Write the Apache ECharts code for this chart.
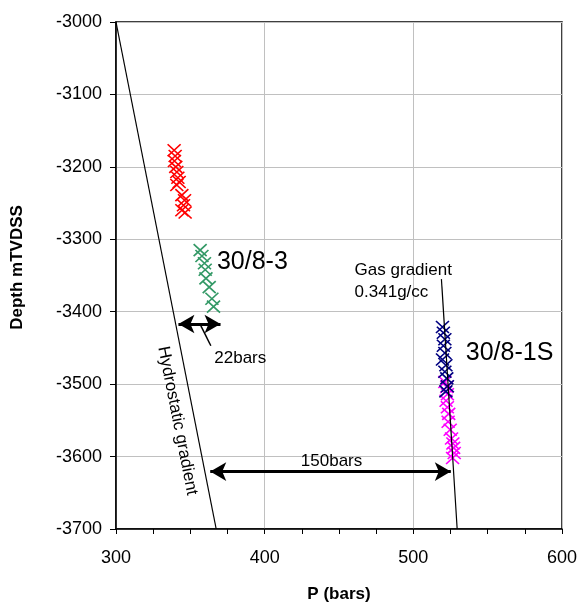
<!DOCTYPE html>
<html><head><meta charset="utf-8">
<script src="https://cdn.jsdelivr.net/npm/echarts@6/dist/echarts.min.js"></script>
<style>html,body{margin:0;padding:0;background:#fff}#c{width:579px;height:604px}</style>
</head><body><div id="c"></div>
<script>
// Pressure (bars), depth (m TVDSS)
const well83Upper = [[339.1,-3177],[339.8,-3185],[339.3,-3192],[340.2,-3200],[340.9,-3207],[341.6,-3215],[342.5,-3221],[340.9,-3225],[344.3,-3239],[346.1,-3246],[345.4,-3253],[344.3,-3260],[346.5,-3263]];
const well83Lower = [[356.6,-3315],[357.8,-3323],[359.5,-3333],[360.0,-3342],[360.5,-3354],[362.7,-3366],[364.5,-3382],[365.6,-3393]];
const well81Upper = [[519.6,-3421],[520.2,-3429],[521.2,-3438],[520.2,-3447],[521.2,-3457],[519.6,-3466],[521.9,-3474],[521.2,-3483],[522.5,-3492],[522.9,-3503],[521.9,-3510]];
const well81Lower = [[521.2,-3497],[522.5,-3504],[522.9,-3514],[522.0,-3523],[522.9,-3532],[523.8,-3541],[523.4,-3552],[524.8,-3563],[525.7,-3575],[526.6,-3582],[527.1,-3588],[527.5,-3595],[526.4,-3602]];
const hydrostaticLine = [[300,-3000],[367.4,-3700]];
const gasGradientLine = [[518.9,-3355],[529.5,-3700]];
const arrow22 = [[342.0,-3417],[370.3,-3417]];
const arrow150 = [[363.4,-3620.7],[525.2,-3620.7]];
const leader22 = [[357.1,-3419.6],[363.8,-3447]];
const textLabels = [
  {text:'30/8-3', p:367.9, d:-3331, size:25, align:'left'},
  {text:'30/8-1S', p:535.3, d:-3457, size:25, align:'left'},
  {text:'Gas gradient', p:460.5, d:-3342.6, size:17, align:'left'},
  {text:'0.341g/cc', p:460.5, d:-3373.8, size:17, align:'left'},
  {text:'22bars', p:366.1, d:-3464, size:17, align:'left'},
  {text:'150bars', p:445, d:-3607, size:17, align:'center'}
];
const hydroLabel = {text:'Hydrostatic gradient', d:-3546, offset:17, size:17};

const FONT = "'Liberation Sans', Arial, sans-serif";
const crossPath = 'path://M0,0L10,10M10,0L0,10';
function crossSeries(data, color){
  return {type:'scatter', data:data, symbol:crossPath, symbolSize:[13,12], silent:true,
    itemStyle:{color:'rgba(0,0,0,0)', borderColor:color, borderWidth:1.6, opacity:1}, z:3};
}
const chart = echarts.init(document.getElementById('c'), null, {renderer:'canvas'});
chart.setOption({
  animation:false,
  textStyle:{fontFamily:FONT},
  grid:{left:116, right:17, top:22, bottom:75, outerBoundsMode:'none', containLabel:false,
    show:true, borderColor:'#000', borderWidth:1.5, backgroundColor:'#fff'},
  xAxis:[{type:'value', min:300, max:600, interval:100,
    axisLine:{show:true, onZero:false, lineStyle:{color:'#000', width:1.5}},
    axisTick:{show:false},
    splitLine:{show:true, lineStyle:{color:'#c0c0c0', width:1}},
    axisLabel:{fontSize:18, color:'#000', margin:20, fontFamily:FONT},
    name:'P (bars)', nameLocation:'middle', nameGap:57,
    nameTextStyle:{fontWeight:'bold', fontSize:17, color:'#000', fontFamily:FONT}},
   {type:'value', position:'bottom', min:300, max:600, interval:25,
    axisLine:{show:false, onZero:false}, axisLabel:{show:false}, splitLine:{show:false},
    axisTick:{show:true, inside:false, length:5, lineStyle:{color:'#000', width:1}}}],
  yAxis:{type:'value', min:-3700, max:-3000, interval:100,
    axisLine:{show:true, onZero:false, lineStyle:{color:'#000', width:1.5}},
    axisTick:{show:true, inside:false, length:6, lineStyle:{color:'#000', width:1}},
    splitLine:{show:true, lineStyle:{color:'#c0c0c0', width:1}},
    axisLabel:{fontSize:18, color:'#000', margin:14, fontFamily:FONT, formatter:function(v){return String(v);}},
    name:'Depth mTVDSS', nameLocation:'middle', nameGap:90, nameRotate:90,
    nameTextStyle:{fontWeight:'bold', fontSize:17, color:'#000', fontFamily:FONT, padding:[0,0,0,16]}},
  series:[
    crossSeries(well83Upper,'#ff0000'),
    crossSeries(well83Lower,'#339966'),
    crossSeries(well81Lower,'#ff00ff'),
    crossSeries(well81Upper,'#000080'),
    {type:'line', data:hydrostaticLine, symbol:'none', silent:true, lineStyle:{color:'#000', width:1.2}, z:5,
      markLine:{silent:true, animation:false, symbol:['arrow','arrow'], symbolSize:[14,16], label:{show:false},
        lineStyle:{color:'#000', width:3, type:'solid'},
        data:[
          [{coord:arrow22[0]},{coord:arrow22[1]}],
          [{coord:arrow150[0]},{coord:arrow150[1]}],
          [{coord:leader22[0], symbol:'none', lineStyle:{width:1.5, color:'#000', type:'solid'}},{coord:leader22[1], symbol:'none'}]
        ]}},
    {type:'line', data:gasGradientLine, symbol:'none', silent:true, lineStyle:{color:'#000', width:1.2}, z:5}
  ]
});
const graphics = textLabels.map(function(l){
  const px = chart.convertToPixel({gridIndex:0},[l.p,l.d]);
  return {type:'text', x:px[0], y:px[1], z:10,
    style:{text:l.text, fill:'#000', font:l.size+'px '+FONT, align:l.align, verticalAlign:'middle'}};
});
(function(){
  const a = chart.convertToPixel({gridIndex:0}, hydrostaticLine[0]);
  const b = chart.convertToPixel({gridIndex:0}, hydrostaticLine[1]);
  const t = (hydroLabel.d - hydrostaticLine[0][1])/(hydrostaticLine[1][1]-hydrostaticLine[0][1]);
  const cx = a[0] + (b[0]-a[0])*t, cy = a[1] + (b[1]-a[1])*t;
  const dx = b[0]-a[0], dy = b[1]-a[1], len = Math.sqrt(dx*dx+dy*dy);
  const nx = -dy/len, ny = dx/len;
  graphics.push({type:'text', x:cx + nx*hydroLabel.offset, y:cy + ny*hydroLabel.offset,
    rotation:-Math.atan2(dy,dx), z:10,
    style:{text:hydroLabel.text, fill:'#000', font:hydroLabel.size+'px '+FONT, align:'center', verticalAlign:'middle'}});
})();
chart.setOption({graphic:graphics});
</script></body></html>
